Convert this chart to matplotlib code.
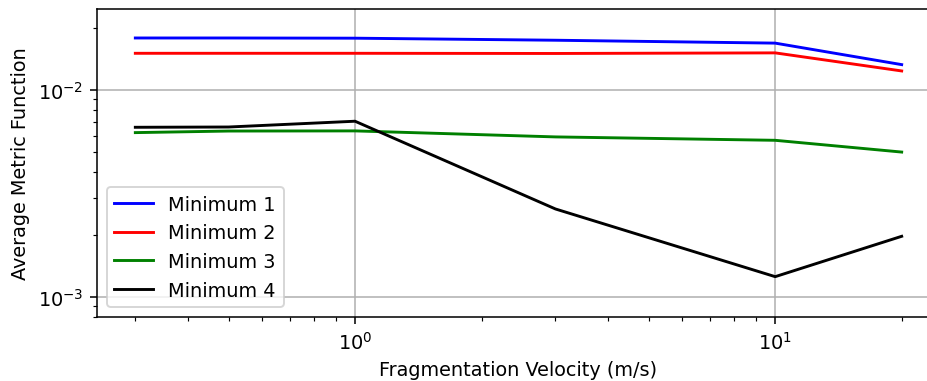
import matplotlib
matplotlib.use("Agg")
import matplotlib.pyplot as plt

velocidades = [0.3, 0.5, 1, 3, 10, 20]
minimo_1 = [0.01782, 0.01782, 0.01778, 0.01738, 0.01683, 0.01325]
minimo_2 = [0.01503, 0.01503, 0.01503, 0.01500, 0.01510, 0.01235]
minimo_3 = [0.00622, 0.00633, 0.00634, 0.00593, 0.00571, 0.00501]
minimo_4 = [0.00660, 0.00662, 0.00706, 0.00266, 0.001253, 0.001963]
etiquetas = ["Minimum 1", "Minimum 2", "Minimum 3", "Minimum 4"]
colores = ["b", "r", "g", "k"]

dpi = 139
fig = plt.figure(figsize=(927 / dpi, 382 / dpi), dpi=dpi)
ax = fig.add_axes([97 / 927, 64 / 382, 843 / 927, 308 / 382])

for serie, etiqueta, color in zip([minimo_1, minimo_2, minimo_3, minimo_4], etiquetas, colores):
    ax.plot(velocidades, serie, color=color, label=etiqueta)

ax.set_xscale("log")
ax.set_yscale("log")
ax.set_ylim(8e-4, 2.46e-2)
ax.set_xlabel("Fragmentation Velocity (m/s)")
ax.set_ylabel("Average Metric Function")
ax.grid(True)
ax.legend(loc="lower left")

fig.savefig("out.png", dpi=dpi)
